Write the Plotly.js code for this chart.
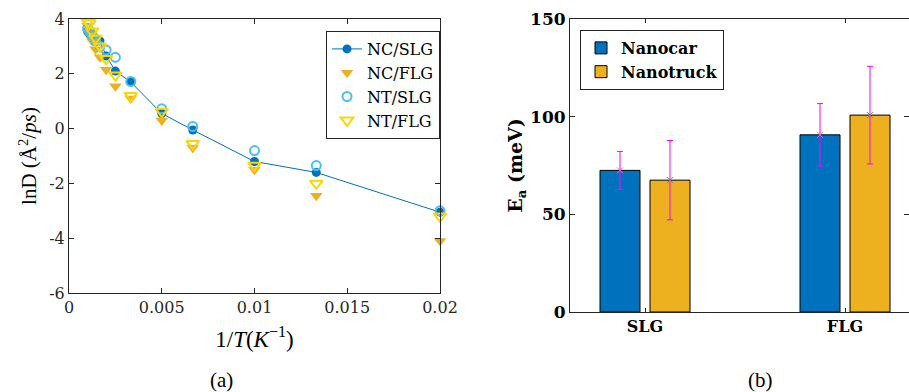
<!DOCTYPE html>
<html>
<head>
<meta charset="utf-8">
<script src="https://cdn.plot.ly/plotly-3.0.1.min.js"></script>
<style>html,body{margin:0;padding:0;background:#fff;} #chart{width:909px;height:392px;}</style>
</head>
<body>
<div id="chart"></div>
<script>
// ---------- Panel (a) data ----------
const invT = [0.001, 0.00111, 0.00125, 0.00143, 0.00167, 0.002, 0.0025, 0.00333, 0.005, 0.00667, 0.01, 0.01333, 0.02];
const ncSLG = [3.55, 3.45, 3.35, 3.3, 3.2, 2.65, 2.1, 1.7, 0.55, -0.05, -1.2, -1.6, -3.05];
const ncFLG = [3.75, 3.5, 3.2, 2.9, 2.6, 2.15, 1.55, 1.1, 0.3, -0.7, -1.5, -2.45, -4.1];
const ntSLG = [3.65, 3.55, 3.4, 3.2, 3.0, 2.87, 2.6, 1.72, 0.72, 0.08, -0.8, -1.35, -3.0];
const ntFLG = [3.9, 3.85, 3.55, 3.3, 3.0, 2.55, 1.95, 1.2, 0.62, -0.55, -1.35, -2.0, -3.2];
const seriesNamesA = ["NC/SLG", "NC/FLG", "NT/SLG", "NT/FLG"];
const xTickValsA = [0, 0.005, 0.01, 0.015, 0.02];
const xTickTextA = ["0", "0.005", "0.01", "0.015", "0.02"];
const yTickValsA = [4, 2, 0, -2, -4, -6];
const yTickTextA = ["4", "2", "0", "-2", "-4", "-6"];

// ---------- Panel (b) data ----------
const substrates = ["SLG", "FLG"];
const substratePos = [1, 2];
const nanocarEa = [72.5, 90.7];
const nanocarErr = [9.7, 16.0];
const nanotruckEa = [67.5, 100.8];
const nanotruckErr = [20.3, 25.0];
const yTickValsB = [0, 50, 100, 150];

// ---------- styling ----------
const serif = "Liberation Serif";
const dvSerif = "DejaVu Serif";
const axCol = "#262626";
const barWidth = 0.2;
const offCar = -0.225, offTruck = 0.025;

const traces = [
  {x: invT, y: ncSLG, name: seriesNamesA[0], type: "scatter", mode: "lines+markers", cliponaxis: false,
   line: {color: "#0072BD", width: 1}, marker: {symbol: "circle", size: 9, color: "#0072BD"},
   xaxis: "x", yaxis: "y", legend: "legend"},
  {x: invT, y: ncFLG, name: seriesNamesA[1], type: "scatter", mode: "markers", cliponaxis: false,
   marker: {symbol: "triangle-down", size: 11, color: "#EDB120"},
   xaxis: "x", yaxis: "y", legend: "legend"},
  {x: invT, y: ntSLG, name: seriesNamesA[2], type: "scatter", mode: "markers", cliponaxis: false,
   marker: {symbol: "circle-open", size: 9, color: "#4DBEEE", line: {width: 2, color: "#4DBEEE"}},
   xaxis: "x", yaxis: "y", legend: "legend"},
  {x: invT, y: ntFLG, name: seriesNamesA[3], type: "scatter", mode: "markers", cliponaxis: false,
   marker: {symbol: "triangle-down-open", size: 11, color: "#FFD500", line: {width: 2, color: "#FFD500"}},
   xaxis: "x", yaxis: "y", legend: "legend"},
  {x: substratePos, y: nanocarEa, name: "Nanocar", type: "bar", width: barWidth, offset: offCar,
   marker: {color: "#0072BD", line: {color: "#000", width: 1}},
   error_y: {type: "data", array: nanocarErr, visible: true, color: "#FF00FF", thickness: 1, width: 3},
   xaxis: "x2", yaxis: "y2", legend: "legend2"},
  {x: substratePos, y: nanotruckEa, name: "Nanotruck", type: "bar", width: barWidth, offset: offTruck,
   marker: {color: "#EDB120", line: {color: "#000", width: 1}},
   error_y: {type: "data", array: nanotruckErr, visible: true, color: "#FF00FF", thickness: 1, width: 3},
   xaxis: "x2", yaxis: "y2", legend: "legend2"},
  {x: substratePos.map(p => p + offCar + barWidth / 2), y: nanocarEa, type: "scatter", mode: "markers",
   marker: {symbol: "x-thin-open", size: 6, line: {color: "#FF00FF", width: 1}},
   showlegend: false, hoverinfo: "skip", xaxis: "x2", yaxis: "y2"},
  {x: substratePos.map(p => p + offTruck + barWidth / 2), y: nanotruckEa, type: "scatter", mode: "markers",
   marker: {symbol: "x-thin-open", size: 6, line: {color: "#FF00FF", width: 1}},
   showlegend: false, hoverinfo: "skip", xaxis: "x2", yaxis: "y2"}
];

const W = 909, H = 392;
const layout = {
  width: W, height: H,
  margin: {l: 0, r: 0, t: 0, b: 0},
  paper_bgcolor: "#fff", plot_bgcolor: "#fff",
  showlegend: true,
  barmode: "overlay",
  font: {family: serif, size: 16, color: "#000"},
  xaxis: {
    domain: [69 / W, 440 / W], range: [0, 0.02], tickvals: xTickValsA, ticktext: xTickTextA,
    showline: true, mirror: "ticks", linecolor: axCol, linewidth: 1,
    ticks: "inside", ticklen: 5, tickcolor: axCol, showgrid: false, zeroline: false,
    tickfont: {family: dvSerif, size: 16, color: "#262626"},
    title: {text: "1/<i>T</i>(<i>K</i><sup>−1</sup>)", font: {family: serif, size: 23}, standoff: 14},
    anchor: "y"
  },
  yaxis: {
    domain: [(H - 293) / H, (H - 19) / H], range: [-6, 4], tickvals: yTickValsA, ticktext: yTickTextA,
    showline: true, mirror: "ticks", linecolor: axCol, linewidth: 1,
    ticks: "inside", ticklen: 5, tickcolor: axCol, showgrid: false, zeroline: false,
    tickfont: {family: dvSerif, size: 16, color: "#262626"},
    title: {text: "lnD (Å<sup>2</sup>/<i>ps</i>)", font: {family: serif, size: 21}, standoff: 6},
    anchor: "x"
  },
  xaxis2: {
    domain: [570 / W, 1.0], range: [0.625, 2.32], tickvals: substratePos, ticktext: substrates,
    showline: true, mirror: "ticks", linecolor: axCol, linewidth: 1,
    ticks: "inside", ticklen: 4, tickcolor: axCol, showgrid: false, zeroline: false,
    tickfont: {family: dvSerif, size: 16, color: "#000", weight: "bold"},
    anchor: "y2"
  },
  yaxis2: {
    domain: [(H - 312) / H, (H - 19) / H], range: [0, 150], tickvals: yTickValsB,
    showline: true, mirror: "ticks", linecolor: axCol, linewidth: 1,
    ticks: "inside", ticklen: 5, tickcolor: axCol, showgrid: false, zeroline: false,
    tickfont: {family: dvSerif, size: 17, color: "#000", weight: "bold"},
    title: {text: "<b>E<sub>a</sub> (meV)</b>", font: {family: dvSerif, size: 19}, standoff: 2},
    anchor: "x2"
  },
  legend: {
    x: 326 / W, y: (H - 31) / H, xanchor: "left", yanchor: "top",
    bgcolor: "#fff", bordercolor: "#262626", borderwidth: 1,
    font: {family: dvSerif, size: 16, color: "#000"}, itemwidth: 30, tracegroupgap: 0
  },
  legend2: {
    x: 580 / W, y: (H - 30) / H, xanchor: "left", yanchor: "top",
    bgcolor: "#fff", bordercolor: "#262626", borderwidth: 1,
    font: {family: dvSerif, size: 16, color: "#000", weight: "bold"}, itemwidth: 30
  },
  annotations: [
    {text: "(a)", x: 221 / W, y: (H - 380) / H, xref: "paper", yref: "paper", showarrow: false,
     font: {family: serif, size: 21, color: "#000"}, xanchor: "center", yanchor: "middle"},
    {text: "(b)", x: 760 / W, y: (H - 380) / H, xref: "paper", yref: "paper", showarrow: false,
     font: {family: serif, size: 21, color: "#000"}, xanchor: "center", yanchor: "middle"}
  ]
};

Plotly.newPlot("chart", traces, layout, {displayModeBar: false, staticPlot: true});
</script>
</body>
</html>
